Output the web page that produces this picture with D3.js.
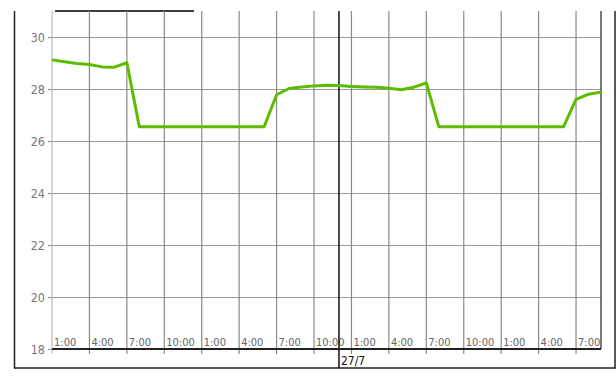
<!DOCTYPE html>
<html>
<head>
<meta charset="utf-8">
<script src="https://cdn.jsdelivr.net/npm/d3@7"></script>
<style>
  html, body { margin: 0; padding: 0; background: #fff; }
  svg { display: block; }
  .lbl { font-family: "DejaVu Sans Condensed", "DejaVu Sans", sans-serif; font-stretch: condensed; }
</style>
</head>
<body>
<svg id="chart" width="616" height="376"></svg>
<script>
// Hourly temperature readings, 26/7 01:00 through 27/7 21:00
const startTime = "2023-07-26T01:00:00Z";
const temps = [
  29.12, 29.05, 28.98, 28.94, 28.85, 28.84, 29.01,           // 01-07
  26.55, 26.55, 26.55, 26.55, 26.55, 26.55, 26.55, 26.55,    // 08-15
  26.55, 26.55, 26.55,                                       // 16-18
  27.78, 28.02, 28.08, 28.12, 28.14,                         // 19-23
  28.13,                                                     // 00 (27/7)
  28.10, 28.08, 28.07, 28.03, 27.97, 28.07, 28.23,           // 01-07
  26.55, 26.55, 26.55, 26.55, 26.55, 26.55, 26.55, 26.55,    // 08-15
  26.55, 26.55, 26.55,                                       // 16-18
  27.60, 27.80, 27.88                                        // 19-21
];
const yTicks = [18, 20, 22, 24, 26, 28, 30];
const dayLabels = ["27/7"];

const svg = d3.select("#chart");
const plotLeft = 52, plotRight = 601, plotTop = 11, plotBottom = 349;

const t0 = new Date(startTime);
const data = temps.map((v, i) => ({ t: d3.utcHour.offset(t0, i), v }));
const t1 = data[data.length - 1].t;

const x = d3.scaleUtc().domain([t0, t1]).range([plotLeft, plotRight]);
const y = d3.scaleLinear().domain([18, 31]).range([plotBottom, plotTop]);

// outer frame
const frame = svg.append("g").attr("stroke", "#222").attr("fill", "none");
frame.append("line").attr("x1", 14.5).attr("x2", 14.5).attr("y1", 11).attr("y2", 368.5).attr("stroke-width", 1.5);
frame.append("line").attr("x1", 14).attr("x2", 615.5).attr("y1", 368).attr("y2", 368).attr("stroke-width", 1.5);
frame.append("line").attr("x1", 615).attr("x2", 615).attr("y1", 11).attr("y2", 368.5).attr("stroke-width", 1.5);
frame.append("line").attr("x1", 55).attr("x2", 194).attr("y1", 11).attr("y2", 11).attr("stroke-width", 1.5).attr("stroke", "#000");

// horizontal grid + y ticks
const yAxis = d3.axisLeft(y).tickValues(yTicks).tickSize(4).tickPadding(3).tickFormat(d3.format("d"));
const gy = svg.append("g").attr("transform", `translate(${plotLeft},0)`).call(yAxis);
gy.select(".domain").remove();
gy.selectAll(".tick line").attr("stroke", "#888");
gy.selectAll(".tick text").attr("class", "lbl").attr("fill", "#777").attr("font-size", 12.5);

svg.append("g").selectAll("line")
  .data(yTicks.filter(d => d > 18))
  .join("line")
  .attr("x1", plotLeft).attr("x2", plotRight)
  .attr("y1", d => Math.round(y(d)) + 0.5).attr("y2", d => Math.round(y(d)) + 0.5)
  .attr("stroke", "#999").attr("stroke-width", 1.2);

// vertical grid every 3 hours
const xTicks = d3.utcHour.range(t0, d3.utcHour.offset(t1, 1)).filter(d => (d.getUTCHours() - 1) % 3 === 0);
const fmt = d3.utcFormat("%-I:%M");
const gx = svg.append("g");
gx.selectAll("line")
  .data(xTicks)
  .join("line")
  .attr("x1", d => x(d)).attr("x2", d => x(d))
  .attr("y1", plotTop).attr("y2", plotBottom + 5)
  .attr("stroke", (d, i) => i === 0 ? "#bbb" : "#8a8a8a").attr("stroke-width", 1.2);
gx.selectAll("text")
  .data(xTicks)
  .join("text")
  .attr("class", "lbl")
  .attr("x", d => x(d) + 2).attr("y", plotBottom - 3)
  .attr("fill", "#666").attr("font-size", 11)
  .text(fmt);

// right plot border
svg.append("line").attr("x1", plotRight).attr("x2", plotRight).attr("y1", plotTop).attr("y2", plotBottom)
  .attr("stroke", "#333").attr("stroke-width", 1.3);

// day boundary
const midnights = d3.utcDay.range(d3.utcHour.offset(t0, 1), t1);
const gd = svg.append("g");
gd.selectAll("line").data(midnights).join("line")
  .attr("x1", d => x(d)).attr("x2", d => x(d))
  .attr("y1", plotTop).attr("y2", 368)
  .attr("stroke", "#111").attr("stroke-width", 1.5);
gd.selectAll("text").data(midnights).join("text")
  .attr("class", "lbl")
  .attr("x", d => x(d) + 2).attr("y", 365)
  .attr("fill", "#111").attr("font-size", 12)
  .text((d, i) => dayLabels[i]);

// x axis baseline
svg.append("line").attr("x1", plotLeft).attr("x2", plotRight).attr("y1", y(18)).attr("y2", y(18))
  .attr("stroke", "#222").attr("stroke-width", 2);

// temperature line
svg.append("path")
  .datum(data)
  .attr("fill", "none")
  .attr("stroke", "#5cbd00")
  .attr("stroke-width", 3)
  .attr("stroke-linejoin", "round")
  .attr("d", d3.line().x(d => x(d.t)).y(d => y(d.v)));
</script>
</body>
</html>
